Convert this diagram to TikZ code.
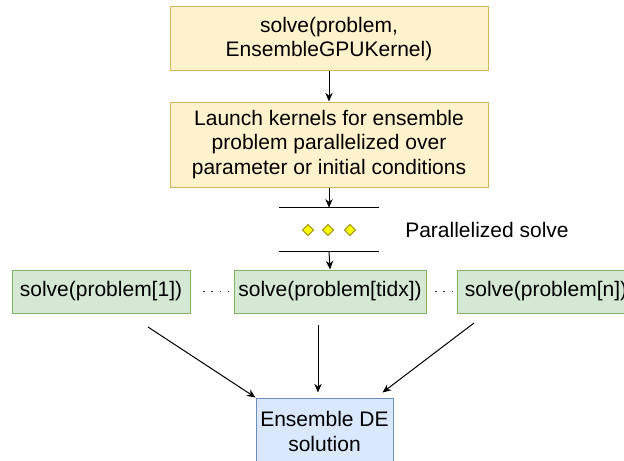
\documentclass[tikz,border=0pt]{standalone}
\usepackage{fontspec}
\setmainfont{Liberation Sans}
\usetikzlibrary{arrows.meta,shapes.geometric}
\definecolor{ylwfill}{HTML}{FFF2CC}
\definecolor{ylwline}{HTML}{D6B656}
\definecolor{grnfill}{HTML}{D5E8D4}
\definecolor{grnline}{HTML}{82B366}
\definecolor{blufill}{HTML}{DAE8FC}
\definecolor{bluline}{HTML}{6C8EBF}
\definecolor{dmdfill}{HTML}{FFFF00}
\definecolor{dmdline}{HTML}{998800}
\tikzset{
  base/.style={inner sep=0pt, align=center, font=\fontsize{15.75}{18.5}\selectfont},
  stepbox/.style={base, draw=ylwline, fill=ylwfill, line width=0.75pt, minimum width=238.5pt},
  solvebox/.style={base, draw=grnline, fill=grnfill, line width=0.75pt, minimum height=32.25pt},
  resultbox/.style={base, draw=bluline, fill=blufill, line width=0.75pt, minimum width=102.75pt, minimum height=50.25pt},
  gem/.style={diamond, draw=dmdline, fill=dmdfill, line width=0.6pt, inner sep=0pt, minimum size=8.5pt},
  arr/.style={-{Stealth[length=6.5pt,width=5.5pt]}, line width=0.75pt, draw=black},
  dots/.style={line width=1.2pt, dash pattern=on 1.2pt off 5pt, draw=black!85}
}
\begin{document}
\begin{tikzpicture}[x=0.75pt, y=-0.75pt]
\useasboundingbox (0,0) rectangle (624,460);

% top-level call and kernel launch
\node[stepbox, minimum height=48pt] (call) at (329,39) {solve(problem,\\EnsembleGPUKernel)};
\node[stepbox, minimum height=63.75pt] (launch) at (329,144.5)
  {Launch kernels for ensemble\\problem parallelized over\\parameter or initial conditions};

% parallel section marker
\node[inner sep=0pt, minimum width=75pt, minimum height=32.25pt] (par) at (329,229.5) {};
\draw[line width=0.75pt] (par.north west) -- (par.north east);
\draw[line width=0.75pt] (par.south west) -- (par.south east);
\node[gem] (g1) at (308,230) {};
\node[gem] (g2) at (328,230) {};
\node[gem] (g3) at (350,230) {};
\node[base] (parlbl) at (487,230) {Parallelized solve};

% per-trajectory solves
\node[solvebox, minimum width=133.5pt] (s1) at (101,291.5) {solve(problem[1])};
\node[solvebox, minimum width=144pt] (st) at (330,291.5) {solve(problem[tidx])};
\node[solvebox, minimum width=133.5pt] (sn) at (546,291.5) {solve(problem[n])};

% ensemble result
\node[resultbox] (sol) at (324.5,431.5) {Ensemble DE\\solution};

% connectors
\draw[arr] (call.south) -- (launch.north);
\draw[arr] (launch.south) -- (par.north);
\draw[arr] (par.south) -- (st.north);

\draw[dots, shorten <=9.5pt, shorten >=3.5pt] (s1.east) -- (st.west);
\draw[dots, shorten <=6.5pt, shorten >=3.5pt] (st.east) -- (sn.west);

\coordinate (ls) at (148,327);
\coordinate (ms) at (318,325);
\coordinate (rs) at (474,323);
\draw[arr] (ls) -- (sol.north west);
\draw[arr] (ms) -- ([yshift=3.75pt]sol.north -| ms);
\draw[arr] (rs) -- ([xshift=-8.25pt, yshift=3.75pt]sol.north east);
\end{tikzpicture}
\end{document}
